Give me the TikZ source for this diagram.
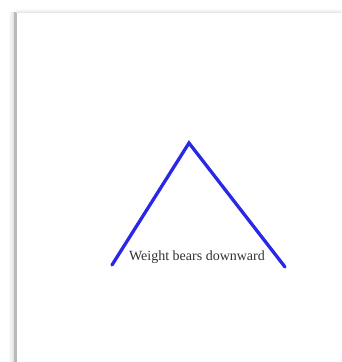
\documentclass[tikz,border=0pt]{standalone}
\usepackage{fontspec}
\setmainfont{Liberation Serif}
\definecolor{roofblue}{RGB}{40,40,230}
\definecolor{shadowgray}{RGB}{185,185,185}
\definecolor{textgray}{RGB}{50,50,50}
\tikzset{
  roof/.style={draw=roofblue, line width=3.3pt, line cap=round, line join=miter},
  lbl/.style={font=\fontsize{14pt}{16pt}\selectfont, text=textgray, inner sep=0pt}
}
\begin{document}
\begin{tikzpicture}[x=1pt,y=-1pt]
\useasboundingbox (0,0) rectangle (341,362);
\fill[white] (0,0) rectangle (341,362);
% page shadow
\shade[left color=white, right color=black!12] (8,12) rectangle (14,362);
\fill[shadowgray] (14,12) rectangle (16.5,362);
\shade[top color=white, bottom color=black!8] (16,8) rectangle (341,12);
\draw[black!10, line width=0.8pt] (16,12) -- (341,12);
% roof
\coordinate (left) at (112,265);
\coordinate (apex) at (189,143);
\coordinate (right) at (285,267);
\draw[roof] (left) -- (apex) -- (right);
\node[lbl] (label) at (197,257) {Weight bears downward};
\end{tikzpicture}
\end{document}
